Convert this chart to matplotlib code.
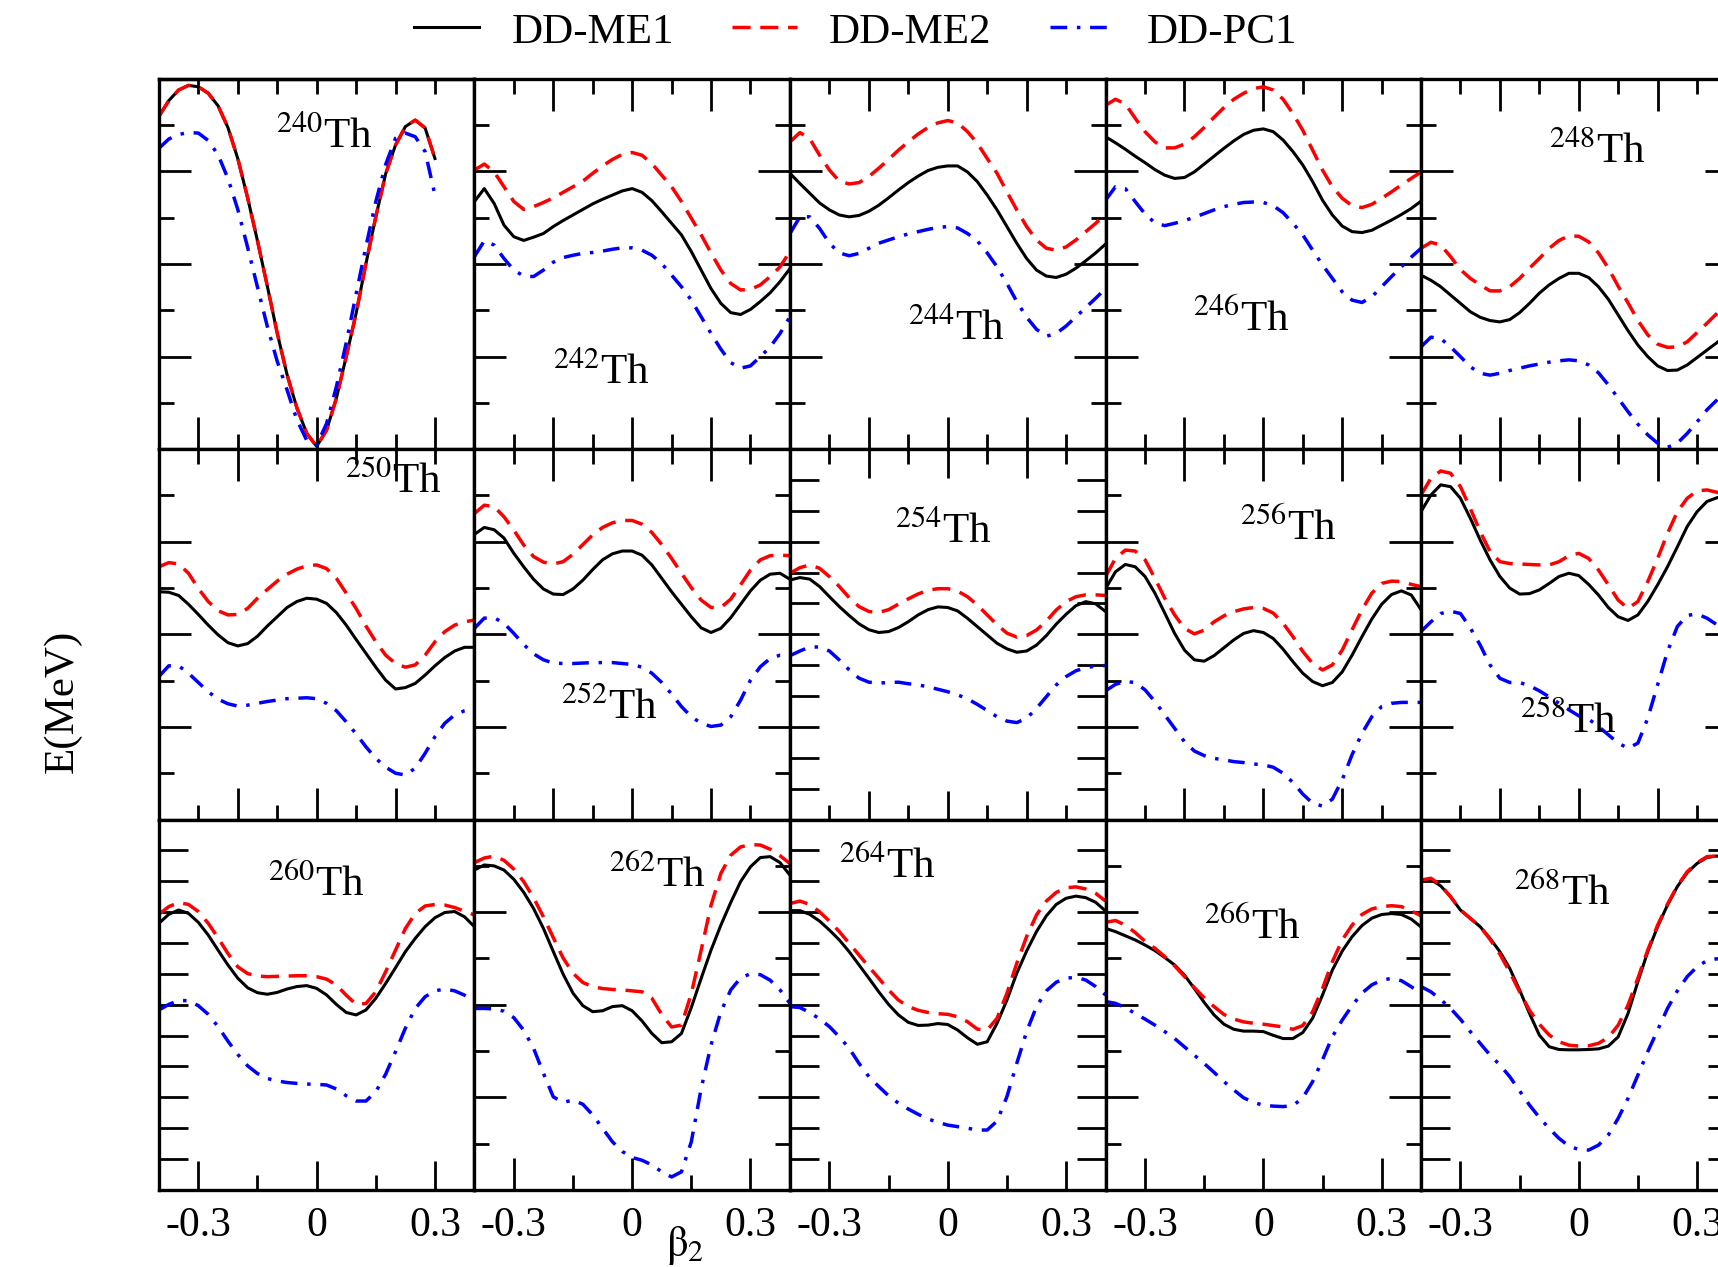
import matplotlib

matplotlib.use("Agg")
import matplotlib.pyplot as plt
import numpy as np
from matplotlib.lines import Line2D

plt.rcParams["font.family"] = ["Liberation Serif", "DejaVu Serif"]
plt.rcParams["mathtext.fontset"] = "stix"
plt.rcParams["lines.scale_dashes"] = False

nan = np.nan

BETA = [-0.4, -0.375, -0.35, -0.325, -0.3, -0.275, -0.25, -0.225, -0.2, -0.175, -0.15,
        -0.125, -0.1, -0.075, -0.05, -0.025, 0.0, 0.025, 0.05, 0.075, 0.1, 0.125, 0.15,
        0.175, 0.2, 0.225, 0.25, 0.275, 0.3, 0.325, 0.35, 0.375, 0.4]

SERIES_NAMES = ["DD-ME1", "DD-ME2", "DD-PC1"]
NUCLEI = [240, 242, 244, 246, 248, 250, 252, 254, 256, 258, 260, 262, 264, 266, 268]
# number of y tick intervals in each panel (no energy labels on the original)
Y_SPAN = [8, 8, 8, 8, 8, 8, 8, 12, 8, 8, 12, 8, 12, 8, 12]

ME1_240 = [7.19, 7.53, 7.76, 7.86, 7.83, 7.69, 7.42, 6.95, 6.28, 5.43, 4.50, 3.52, 2.51, 1.61, 0.89, 0.34, 0.06,
           0.41, 1.10, 2.00, 2.93, 4.01, 5.02, 5.95, 6.57, 6.97, 7.11, 6.94, 6.28, nan, nan, nan, nan]
ME2_240 = [7.19, 7.53, 7.76, 7.86, 7.83, 7.69, 7.42, 6.95, 6.28, 5.43, 4.50, 3.52, 2.51, 1.61, 0.89, 0.34, 0.06,
           0.41, 1.10, 2.00, 2.93, 4.01, 5.02, 5.95, 6.57, 6.97, 7.11, 6.94, 6.28, nan, nan, nan, nan]
PC1_240 = [6.50, 6.70, 6.80, 6.84, 6.83, 6.67, 6.36, 5.85, 5.18, 4.36, 3.50, 2.65, 1.90, 1.28, 0.63, 0.19, 0.09,
           0.55, 1.35, 2.30, 3.35, 4.38, 5.35, 6.15, 6.72, 6.83, 6.75, 6.43, 5.49, nan, nan, nan, nan]

ME1_242 = [5.35, 5.63, 5.31, 4.84, 4.59, 4.51, 4.58, 4.66, 4.81, 4.94, 5.06, 5.18, 5.30, 5.40, 5.49, 5.58, 5.63,
           5.55, 5.37, 5.13, 4.88, 4.63, 4.27, 3.87, 3.47, 3.15, 2.95, 2.91, 3.02, 3.19, 3.38, 3.62, 3.90]
ME2_242 = [6.03, 6.16, 5.99, 5.67, 5.35, 5.18, 5.24, 5.33, 5.43, 5.55, 5.67, 5.79, 5.96, 6.12, 6.26, 6.37, 6.41,
           6.35, 6.17, 5.92, 5.67, 5.35, 4.99, 4.63, 4.24, 3.87, 3.58, 3.44, 3.45, 3.55, 3.73, 3.94, 4.27]
PC1_242 = [4.16, 4.50, 4.41, 4.12, 3.87, 3.74, 3.73, 3.87, 4.04, 4.14, 4.19, 4.23, 4.25, 4.28, 4.32, 4.35, 4.35,
           4.30, 4.19, 4.01, 3.76, 3.51, 3.22, 2.86, 2.50, 2.16, 1.87, 1.75, 1.80, 2.00, 2.21, 2.50, 2.86]

ME1_244 = [5.96, 5.74, 5.53, 5.32, 5.17, 5.06, 5.02, 5.05, 5.14, 5.27, 5.43, 5.60, 5.76, 5.90, 6.02, 6.09, 6.12,
           6.12, 5.99, 5.78, 5.49, 5.17, 4.81, 4.45, 4.12, 3.87, 3.74, 3.71, 3.78, 3.91, 4.07, 4.24, 4.43]
ME2_244 = [6.64, 6.84, 6.71, 6.35, 6.03, 5.79, 5.73, 5.76, 5.89, 6.07, 6.26, 6.46, 6.64, 6.81, 6.95, 7.05, 7.10,
           7.05, 6.86, 6.61, 6.28, 5.96, 5.56, 5.17, 4.81, 4.52, 4.34, 4.30, 4.37, 4.52, 4.70, 4.88, 5.08]
PC1_244 = [4.66, 5.02, 5.02, 4.77, 4.45, 4.24, 4.18, 4.23, 4.34, 4.45, 4.52, 4.59, 4.65, 4.70, 4.75, 4.79, 4.81,
           4.78, 4.66, 4.50, 4.24, 3.94, 3.58, 3.19, 2.85, 2.59, 2.44, 2.50, 2.66, 2.86, 3.06, 3.26, 3.47]

ME1_246 = [6.75, 6.62, 6.48, 6.33, 6.19, 6.04, 5.92, 5.85, 5.87, 5.99, 6.16, 6.33, 6.50, 6.66, 6.80, 6.89, 6.92,
           6.86, 6.68, 6.43, 6.14, 5.78, 5.38, 5.06, 4.82, 4.70, 4.68, 4.73, 4.84, 4.95, 5.07, 5.20, 5.36]
ME2_246 = [7.43, 7.56, 7.46, 7.15, 6.86, 6.64, 6.51, 6.51, 6.59, 6.75, 6.95, 7.17, 7.38, 7.56, 7.69, 7.79, 7.83,
           7.76, 7.56, 7.25, 6.89, 6.46, 6.03, 5.67, 5.42, 5.26, 5.22, 5.29, 5.42, 5.56, 5.71, 5.85, 5.99]
PC1_246 = [5.38, 5.67, 5.63, 5.35, 5.08, 4.89, 4.83, 4.88, 4.94, 5.01, 5.09, 5.17, 5.24, 5.29, 5.33, 5.34, 5.33,
           5.26, 5.11, 4.88, 4.63, 4.30, 3.98, 3.69, 3.40, 3.22, 3.17, 3.29, 3.51, 3.73, 3.94, 4.15, 4.34]

ME1_248 = [3.76, 3.65, 3.51, 3.33, 3.15, 2.97, 2.85, 2.78, 2.75, 2.80, 2.95, 3.15, 3.37, 3.55, 3.69, 3.80, 3.80,
           3.71, 3.51, 3.24, 2.90, 2.56, 2.25, 2.00, 1.80, 1.70, 1.71, 1.82, 1.98, 2.14, 2.30, 2.47, 2.65]
ME2_248 = [4.34, 4.47, 4.41, 4.16, 3.88, 3.69, 3.55, 3.42, 3.42, 3.51, 3.69, 3.91, 4.12, 4.34, 4.51, 4.61, 4.60,
           4.48, 4.24, 3.91, 3.52, 3.16, 2.78, 2.47, 2.27, 2.20, 2.21, 2.32, 2.52, 2.72, 2.93, 3.15, 3.37]
PC1_248 = [2.21, 2.42, 2.39, 2.21, 2.00, 1.78, 1.64, 1.60, 1.64, 1.70, 1.75, 1.80, 1.84, 1.88, 1.91, 1.93, 1.91,
           1.82, 1.65, 1.39, 1.10, 0.81, 0.54, 0.31, 0.13, 0.04, 0.13, 0.34, 0.59, 0.85, 1.06, 1.28, 1.49]

ME1_250 = [4.92, 4.91, 4.84, 4.65, 4.43, 4.20, 3.99, 3.82, 3.75, 3.80, 3.96, 4.18, 4.38, 4.58, 4.71, 4.78, 4.76,
           4.67, 4.47, 4.20, 3.89, 3.59, 3.29, 3.01, 2.82, 2.85, 2.94, 3.12, 3.32, 3.50, 3.64, 3.72, 3.72]
ME2_250 = [5.46, 5.55, 5.52, 5.32, 4.99, 4.71, 4.51, 4.42, 4.43, 4.56, 4.78, 4.97, 5.15, 5.30, 5.41, 5.48, 5.50,
           5.42, 5.21, 4.89, 4.56, 4.18, 3.84, 3.55, 3.37, 3.29, 3.34, 3.55, 3.84, 4.06, 4.20, 4.27, 4.31]
PC1_250 = [3.09, 3.32, 3.32, 3.16, 2.96, 2.76, 2.60, 2.50, 2.45, 2.47, 2.51, 2.55, 2.58, 2.61, 2.62, 2.63, 2.61,
           2.51, 2.35, 2.11, 1.85, 1.57, 1.32, 1.13, 1.00, 0.96, 1.11, 1.43, 1.79, 2.08, 2.26, 2.35, 2.40]

ME1_252 = [6.16, 6.31, 6.26, 6.08, 5.75, 5.46, 5.19, 4.98, 4.87, 4.86, 4.98, 5.17, 5.40, 5.61, 5.74, 5.80, 5.80,
           5.71, 5.50, 5.21, 4.92, 4.65, 4.38, 4.14, 4.04, 4.13, 4.36, 4.65, 4.94, 5.17, 5.30, 5.32, 5.19]
ME2_252 = [6.61, 6.79, 6.76, 6.54, 6.25, 5.93, 5.68, 5.56, 5.52, 5.57, 5.73, 5.94, 6.15, 6.31, 6.41, 6.46, 6.46,
           6.38, 6.20, 5.94, 5.64, 5.32, 5.01, 4.74, 4.58, 4.58, 4.76, 5.07, 5.39, 5.61, 5.70, 5.71, 5.70]
PC1_252 = [4.13, 4.35, 4.36, 4.24, 4.02, 3.78, 3.58, 3.45, 3.38, 3.37, 3.37, 3.38, 3.39, 3.39, 3.39, 3.37, 3.35,
           3.29, 3.16, 2.96, 2.71, 2.44, 2.22, 2.08, 2.01, 2.04, 2.22, 2.58, 3.01, 3.30, 3.48, 3.55, 3.55]

ME1_254 = [7.76, 7.84, 7.79, 7.55, 7.22, 6.90, 6.61, 6.34, 6.15, 6.06, 6.09, 6.22, 6.41, 6.63, 6.80, 6.89, 6.87,
           6.76, 6.52, 6.25, 5.98, 5.71, 5.53, 5.42, 5.46, 5.65, 5.96, 6.33, 6.65, 6.93, 7.06, 6.99, 6.74]
ME2_254 = [7.98, 8.16, 8.25, 8.14, 7.87, 7.55, 7.19, 6.90, 6.74, 6.71, 6.80, 6.98, 7.15, 7.31, 7.43, 7.48, 7.48,
           7.40, 7.22, 6.95, 6.63, 6.31, 6.04, 5.91, 5.96, 6.14, 6.43, 6.79, 7.06, 7.22, 7.28, 7.28, 7.26]
PC1_254 = [5.31, 5.46, 5.59, 5.59, 5.46, 5.17, 4.85, 4.58, 4.45, 4.42, 4.44, 4.45, 4.40, 4.36, 4.30, 4.22, 4.14,
           4.04, 3.91, 3.73, 3.53, 3.33, 3.19, 3.14, 3.28, 3.60, 3.98, 4.36, 4.63, 4.82, 4.92, 4.97, 4.99]

ME1_256 = [4.99, 5.35, 5.51, 5.46, 5.25, 4.89, 4.46, 4.02, 3.66, 3.45, 3.42, 3.54, 3.71, 3.88, 4.02, 4.08, 4.04,
           3.91, 3.68, 3.41, 3.16, 2.98, 2.89, 2.96, 3.19, 3.55, 3.95, 4.33, 4.65, 4.86, 4.94, 4.85, 4.53]
ME2_256 = [5.25, 5.64, 5.82, 5.80, 5.61, 5.21, 4.78, 4.42, 4.13, 4.01, 4.09, 4.27, 4.40, 4.49, 4.55, 4.58, 4.56,
           4.46, 4.24, 3.95, 3.63, 3.37, 3.23, 3.34, 3.66, 4.10, 4.53, 4.89, 5.10, 5.15, 5.14, 5.08, 5.03]
PC1_256 = [2.78, 2.92, 2.98, 2.96, 2.80, 2.55, 2.26, 1.97, 1.68, 1.48, 1.38, 1.32, 1.29, 1.25, 1.23, 1.20, 1.18,
           1.13, 1.00, 0.80, 0.55, 0.35, 0.29, 0.44, 0.86, 1.40, 1.86, 2.22, 2.44, 2.51, 2.53, 2.53, 2.53]

ME1_258 = [6.65, 7.01, 7.23, 7.19, 6.94, 6.51, 6.04, 5.61, 5.25, 5.00, 4.87, 4.88, 4.96, 5.10, 5.25, 5.32, 5.27,
           5.08, 4.85, 4.58, 4.38, 4.30, 4.42, 4.71, 5.07, 5.46, 5.89, 6.33, 6.65, 6.87, 6.95, 7.01, 7.01]
ME2_258 = [7.01, 7.37, 7.53, 7.48, 7.19, 6.72, 6.22, 5.79, 5.57, 5.53, 5.52, 5.51, 5.50, 5.50, 5.57, 5.70, 5.75,
           5.64, 5.39, 5.07, 4.74, 4.56, 4.71, 5.14, 5.64, 6.18, 6.65, 6.94, 7.10, 7.12, 7.07, 7.02, 6.97]
PC1_258 = [4.06, 4.27, 4.45, 4.50, 4.45, 4.14, 3.77, 3.34, 3.05, 2.96, 2.96, 2.89, 2.78, 2.65, 2.51, 2.37, 2.24,
           2.17, 2.01, 1.83, 1.65, 1.54, 1.65, 2.19, 2.91, 3.63, 4.17, 4.41, 4.44, 4.35, 4.21, 4.10, 3.99]

ME1_260 = [8.64, 8.93, 9.07, 8.96, 8.67, 8.26, 7.77, 7.29, 6.86, 6.55, 6.39, 6.34, 6.40, 6.51, 6.59, 6.62, 6.53,
           6.32, 6.01, 5.75, 5.67, 5.83, 6.21, 6.69, 7.20, 7.72, 8.15, 8.53, 8.82, 8.99, 9.02, 8.85, 8.53]
ME2_260 = [8.93, 9.18, 9.31, 9.25, 9.02, 8.64, 8.17, 7.66, 7.23, 7.01, 6.93, 6.91, 6.92, 6.93, 6.94, 6.94, 6.91,
           6.83, 6.64, 6.31, 6.01, 6.04, 6.42, 7.07, 7.77, 8.47, 8.96, 9.20, 9.25, 9.23, 9.15, 9.03, 8.91]
PC1_260 = [5.83, 6.01, 6.14, 6.13, 5.97, 5.69, 5.29, 4.82, 4.39, 4.02, 3.77, 3.61, 3.53, 3.48, 3.45, 3.43, 3.42,
           3.40, 3.27, 3.05, 2.88, 2.88, 3.18, 3.75, 4.48, 5.24, 5.88, 6.26, 6.45, 6.51, 6.45, 6.31, 6.10]

ME1_262 = [6.91, 7.02, 7.00, 6.91, 6.71, 6.43, 6.08, 5.65, 5.15, 4.66, 4.25, 3.98, 3.85, 3.87, 3.96, 3.98, 3.87,
           3.65, 3.38, 3.18, 3.20, 3.38, 3.94, 4.57, 5.18, 5.72, 6.21, 6.66, 6.98, 7.18, 7.20, 7.07, 6.80]
ME2_262 = [7.07, 7.17, 7.21, 7.12, 6.93, 6.66, 6.31, 5.90, 5.45, 5.01, 4.68, 4.48, 4.39, 4.35, 4.33, 4.32, 4.30,
           4.28, 4.14, 3.79, 3.52, 3.56, 4.24, 5.18, 6.15, 6.84, 7.23, 7.41, 7.46, 7.45, 7.36, 7.22, 7.05]
PC1_262 = [3.92, 3.92, 3.91, 3.86, 3.72, 3.45, 3.06, 2.52, 2.01, 1.89, 1.94, 1.85, 1.62, 1.33, 1.04, 0.83, 0.70,
           0.64, 0.54, 0.39, 0.28, 0.39, 1.04, 2.19, 3.13, 3.85, 4.32, 4.58, 4.67, 4.65, 4.53, 4.32, 4.03]

ME1_264 = [9.05, 9.05, 8.93, 8.71, 8.42, 8.10, 7.72, 7.29, 6.86, 6.42, 6.01, 5.67, 5.43, 5.33, 5.34, 5.39, 5.36,
           5.18, 4.93, 4.72, 4.80, 5.40, 6.15, 7.02, 7.74, 8.37, 8.88, 9.25, 9.45, 9.52, 9.47, 9.32, 9.04]
ME2_264 = [9.28, 9.36, 9.25, 9.01, 8.71, 8.37, 7.99, 7.61, 7.23, 6.86, 6.48, 6.15, 5.94, 5.82, 5.75, 5.71, 5.69,
           5.61, 5.45, 5.21, 5.18, 5.56, 6.37, 7.34, 8.21, 8.91, 9.36, 9.64, 9.79, 9.82, 9.75, 9.61, 9.36]
PC1_264 = [5.94, 5.91, 5.75, 5.54, 5.29, 4.96, 4.59, 4.10, 3.67, 3.35, 3.05, 2.81, 2.62, 2.45, 2.30, 2.19, 2.10,
           2.05, 2.00, 1.94, 1.94, 2.23, 3.02, 4.10, 5.13, 5.94, 6.45, 6.73, 6.86, 6.89, 6.80, 6.59, 6.32]

ME1_266 = [5.65, 5.58, 5.49, 5.40, 5.29, 5.17, 5.02, 4.86, 4.64, 4.35, 4.05, 3.78, 3.58, 3.47, 3.43, 3.43, 3.42,
           3.34, 3.27, 3.27, 3.40, 3.71, 4.21, 4.75, 5.16, 5.47, 5.71, 5.87, 5.95, 5.97, 5.95, 5.85, 5.68]
ME2_266 = [5.78, 5.82, 5.72, 5.56, 5.37, 5.22, 5.04, 4.84, 4.61, 4.37, 4.15, 3.96, 3.79, 3.69, 3.63, 3.60, 3.58,
           3.55, 3.52, 3.47, 3.55, 3.85, 4.35, 4.93, 5.40, 5.72, 5.95, 6.07, 6.12, 6.14, 6.12, 6.03, 5.92]
PC1_266 = [4.07, 4.03, 3.94, 3.81, 3.69, 3.56, 3.42, 3.27, 3.09, 2.91, 2.73, 2.54, 2.34, 2.16, 1.99, 1.89, 1.83,
           1.81, 1.80, 1.82, 1.99, 2.34, 2.81, 3.31, 3.67, 3.98, 4.25, 4.43, 4.53, 4.57, 4.52, 4.39, 4.25]

ME1_268 = [10.04, 10.06, 9.85, 9.50, 9.07, 8.80, 8.53, 8.15, 7.72, 7.18, 6.48, 5.72, 5.02, 4.64, 4.55, 4.54, 4.54,
           4.55, 4.57, 4.66, 4.96, 5.72, 6.75, 7.72, 8.53, 9.23, 9.83, 10.28, 10.58, 10.77, 10.82, 10.74, 10.53]
ME2_268 = [10.04, 10.10, 9.88, 9.50, 9.07, 8.80, 8.53, 8.12, 7.64, 7.06, 6.42, 5.82, 5.37, 5.02, 4.80, 4.69, 4.66,
           4.67, 4.75, 4.94, 5.34, 5.99, 6.86, 7.77, 8.58, 9.26, 9.85, 10.31, 10.60, 10.80, 10.82, 10.74, 10.53]
PC1_268 = [6.59, 6.42, 6.17, 5.88, 5.53, 5.13, 4.75, 4.37, 4.05, 3.67, 3.21, 2.75, 2.35, 1.99, 1.67, 1.42, 1.31,
           1.29, 1.45, 1.78, 2.32, 2.97, 3.72, 4.48, 5.18, 5.88, 6.45, 6.91, 7.23, 7.43, 7.49, 7.45, 7.34]

CURVES = {
    240: (ME1_240, ME2_240, PC1_240), 242: (ME1_242, ME2_242, PC1_242),
    244: (ME1_244, ME2_244, PC1_244), 246: (ME1_246, ME2_246, PC1_246),
    248: (ME1_248, ME2_248, PC1_248), 250: (ME1_250, ME2_250, PC1_250),
    252: (ME1_252, ME2_252, PC1_252), 254: (ME1_254, ME2_254, PC1_254),
    256: (ME1_256, ME2_256, PC1_256), 258: (ME1_258, ME2_258, PC1_258),
    260: (ME1_260, ME2_260, PC1_260), 262: (ME1_262, ME2_262, PC1_262),
    264: (ME1_264, ME2_264, PC1_264), 266: (ME1_266, ME2_266, PC1_266),
    268: (ME1_268, ME2_268, PC1_268),
}

# figure layout in pixels (the last column runs past the right edge, as in the original)
FIG_W, FIG_H = 1718, 1267
COL_LEFT = [158.9, 474.4, 790.0, 1105.6, 1421.0]
ROW_TOP = [78.9, 449.2, 819.6]
PANEL_W, PANEL_H = 315.5, 370.3
LABEL_XY = [(276, 148), (553, 384), (908, 340), (1193, 331), (1549, 163),
            (345, 493), (561, 719), (895, 543), (1240, 540), (1520, 733),
            (268, 896), (609, 887), (839, 878), (1204, 939), (1514, 905)]

STYLES = [
    dict(color="black", linewidth=2.2),
    dict(color="red", linewidth=2.5, dashes=(13, 7)),
    dict(color="blue", linewidth=2.5, dashes=(12, 7, 2.5, 7)),
]
FS = 31


def style_axes(ax, idx, span):
    row, col = divmod(idx, 5)
    ax.set_xlim(-0.4, 0.4)
    ax.set_ylim(0, span)
    for spine in ax.spines.values():
        spine.set_linewidth(2.4)

    if row == 2:
        ax.set_xticks([-0.3, 0.0, 0.3])
        ax.set_xticks([-0.15, 0.15], minor=True)
        ax.set_xticklabels(["-0.3", "0", "0.3"])
        ax.tick_params(axis="x", which="both", top=False, bottom=True, labelbottom=True)
    elif idx == 0:
        ax.set_xticks([-0.3, 0.0, 0.3])
        ax.set_xticks([-0.2, -0.1, 0.1, 0.2], minor=True)
        ax.tick_params(axis="x", which="both", top=False, bottom=True, labelbottom=False)
        top = ax.secondary_xaxis("top")
        top.set_xticks([-0.3, -0.2, -0.1, 0.0, 0.1, 0.2, 0.3])
        top.tick_params(direction="in", length=11, width=2.0, labeltop=False)
        top.spines["top"].set_linewidth(2.4)
    else:
        ax.set_xticks([-0.2, 0.0, 0.2])
        ax.set_xticks([-0.3, -0.1, 0.1, 0.3], minor=True)
        ax.tick_params(axis="x", which="both", top=True, bottom=True, labelbottom=False)

    if span == 8:
        ax.set_yticks([0, 2, 4, 6, 8])
        ax.set_yticks([1, 3, 5, 7], minor=True)
    else:
        ax.set_yticks(range(0, span + 1))
    ax.tick_params(axis="y", which="both", left=True, right=(col != 0), labelleft=False)

    ax.tick_params(which="both", direction="in", width=2.0, labelsize=30, pad=12)
    ax.tick_params(which="major", length=23 if span == 8 else 21)
    ax.tick_params(which="minor", length=11)


def main() -> None:
    fig = plt.figure(figsize=(FIG_W / 100, FIG_H / 100), dpi=100)

    for idx, nucleus in enumerate(NUCLEI):
        row, col = divmod(idx, 5)
        left = COL_LEFT[col] / FIG_W
        bottom = 1 - (ROW_TOP[row] + PANEL_H) / FIG_H
        ax = fig.add_axes([left, bottom, PANEL_W / FIG_W, PANEL_H / FIG_H])
        for values, style in zip(CURVES[nucleus], STYLES):
            ax.plot(BETA, values, **style)
        style_axes(ax, idx, Y_SPAN[idx])

    for (x, y), nucleus in zip(LABEL_XY, NUCLEI):
        fig.text(x / FIG_W, 1 - y / FIG_H, rf"$^{{{nucleus}}}$Th", fontsize=FS,
                 ha="left", va="baseline")

    fig.text(62.5 / FIG_W, 1 - 701 / FIG_H, "E(MeV)", rotation=90, fontsize=FS,
             ha="center", va="center")
    fig.text(685 / FIG_W, 1 - 1256 / FIG_H, r"$\mathrm{\beta}_2$", fontsize=FS,
             ha="center", va="baseline")

    handles = [Line2D([], [], **style) for style in STYLES]
    fig.legend(handles, SERIES_NAMES, loc="center", bbox_to_anchor=(856 / FIG_W, 1 - 32 / FIG_H),
               ncol=3, frameon=False, fontsize=FS, handlelength=1.5, handletextpad=0.75,
               columnspacing=1.36, borderpad=0, borderaxespad=0)

    fig.savefig("out.png", dpi=100)
    plt.close(fig)


if __name__ == "__main__":
    main()
